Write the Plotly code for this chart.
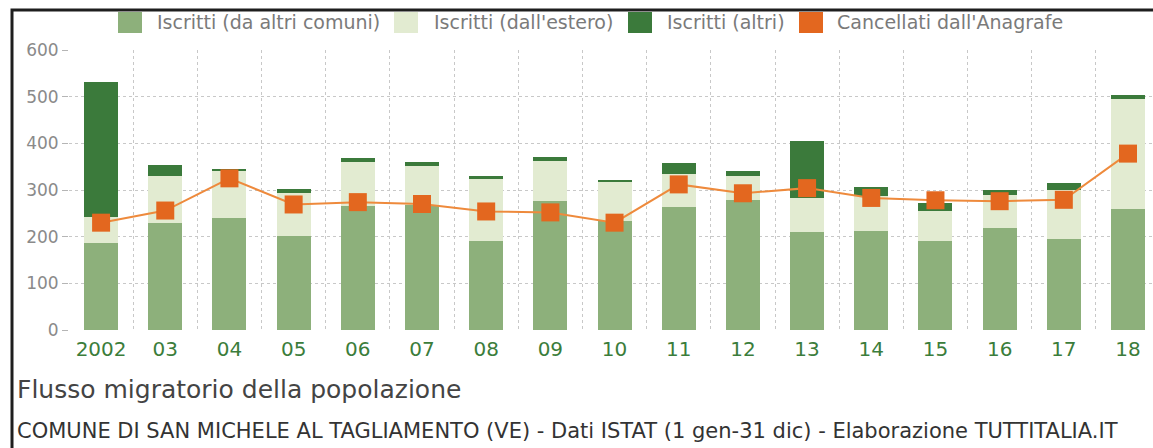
import plotly.graph_objects as go

# ---------------- data ----------------
years = ["2002", "03", "04", "05", "06", "07", "08", "09", "10",
         "11", "12", "13", "14", "15", "16", "17", "18"]
iscritti_comuni = [186, 229, 241, 202, 266, 268, 191, 276, 234, 263, 279, 209, 212, 191, 218, 194, 259]
iscritti_estero = [57, 101, 100, 92, 93, 84, 133, 87, 84, 72, 51, 73, 75, 65, 71, 106, 236]
iscritti_altri = [289, 23, 2, 8, 9, 7, 5, 7, 2, 23, 10, 123, 19, 17, 10, 16, 9]
cancellati = [230, 256, 325, 269, 274, 270, 254, 252, 230, 312, 293, 304, 283, 278, 276, 279, 378]
y_ticks = [0, 100, 200, 300, 400, 500, 600]

names = ["Iscritti (da altri comuni)", "Iscritti (dall'estero)", "Iscritti (altri)", "Cancellati dall'Anagrafe"]
colors = ["#8db07b", "#e2ebd1", "#3b7a3b", "#e3671f"]
line_color = "#ee8a3c"

# ---------------- layout geometry ----------------
W, H = 1153, 448
L, R, T, B = 69, 0, 50, 118
PW, PH = W - L - R, H - T - B
FONT = "DejaVu Sans"


def px_x(p):
    return (p - L) / PW


def px_y(p):
    return (H - B - p) / PH


xs = list(range(len(years)))
step = (1128 - 101) / (len(years) - 1)
x_right = (len(years) - 1) + (W - 1128) / step

fig = go.Figure()
for vals, name, col in zip([iscritti_comuni, iscritti_estero, iscritti_altri], names[:3], colors[:3]):
    fig.add_trace(go.Bar(x=xs, y=vals, name=name, marker=dict(color=col, line=dict(width=0)),
                         width=0.53, showlegend=False))
fig.add_trace(go.Scatter(x=xs, y=cancellati, name=names[3], mode="lines+markers",
                         line=dict(color=line_color, width=2),
                         marker=dict(symbol="square", size=18, color=colors[3]),
                         showlegend=False))

grid = dict(showgrid=True, griddash="3px,3px", gridcolor="#c8c8c8", gridwidth=1, ticks="")

fig.update_layout(
    width=W, height=H,
    margin=dict(l=L, r=R, t=T, b=B, pad=0),
    paper_bgcolor="white", plot_bgcolor="white",
    barmode="stack",
    bargap=0,
    font=dict(family=FONT, color="#777777"),
    xaxis=dict(range=[-0.5, x_right], tickmode="array", tickvals=xs, ticktext=years,
               tickfont=dict(family=FONT, size=20, color="#3b7d3b"),
               showgrid=False, zeroline=False, showline=False, ticks="",
               ticklabelstandoff=5,
               minor=dict(tickmode="array", tickvals=[i - 0.5 for i in range(len(years) + 1)], **grid)),
    yaxis=dict(range=[0, 600], tickmode="array", tickvals=y_ticks,
               tickfont=dict(family=FONT, size=17, color="#8a8a8a"),
               ticks="outside", ticklen=6, tickcolor="#b5b5b5", tickwidth=1,
               showgrid=False, zeroline=False, showline=False,
               minor=dict(tickmode="array", tickvals=y_ticks[:-1], **grid)),
)

# manual legend (large square swatches)
swatch_x = [118, 394, 628, 799]
text_x = [155, 432, 665, 835]
shapes = []
annotations = []
for name, col, sx, tx in zip(names, colors, swatch_x, text_x):
    shapes.append(dict(type="rect", xref="paper", yref="paper",
                       x0=px_x(sx), x1=px_x(sx + 24), y0=px_y(33), y1=px_y(12),
                       fillcolor=col, line=dict(width=0)))
    annotations.append(dict(text=name, xref="paper", yref="paper", x=px_x(tx), y=px_y(22),
                            xanchor="left", yanchor="middle", showarrow=False,
                            font=dict(family=FONT, size=19, color="#7a7a7a")))

# outer frame
shapes.append(dict(type="rect", xref="paper", yref="paper",
                   x0=px_x(12), x1=px_x(W + 20), y0=px_y(H + 20), y1=px_y(10),
                   line=dict(color="#1e1e1e", width=3), fillcolor="rgba(0,0,0,0)"))

annotations.append(dict(text="Flusso migratorio della popolazione", xref="paper", yref="paper",
                        x=px_x(15), y=px_y(389), xanchor="left", yanchor="middle", showarrow=False,
                        font=dict(family=FONT, size=25, color="#444444")))
annotations.append(dict(text="COMUNE DI SAN MICHELE AL TAGLIAMENTO (VE) - Dati ISTAT (1 gen-31 dic) - Elaborazione TUTTITALIA.IT",
                        xref="paper", yref="paper",
                        x=px_x(15), y=px_y(431), xanchor="left", yanchor="middle", showarrow=False,
                        font=dict(family=FONT, size=21, color="#333333")))

fig.update_layout(shapes=shapes, annotations=annotations)
fig.write_html("out.html", config={"displayModeBar": False},
               post_script="document.body.style.margin='0';document.body.style.overflow='hidden';")
